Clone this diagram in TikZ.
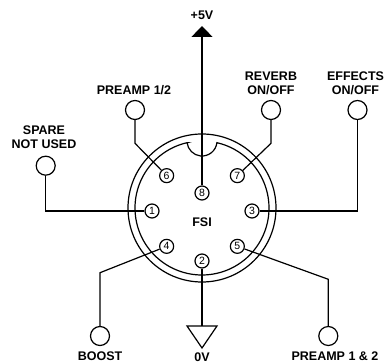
\documentclass[tikz,border=0pt]{standalone}
\usepackage{fontspec}
\setmainfont{Liberation Sans}
\usetikzlibrary{arrows.meta}
\usetikzlibrary{positioning}
\usetikzlibrary{calc}

\tikzset{
  socket/.style={draw, circle, inner sep=0pt, minimum size=14pt, font=\fontsize{10.5}{10.5}\selectfont},
  term/.style={draw, circle, inner sep=0pt, minimum size=19pt},
  lbl/.style={align=center, font=\bfseries\fontsize{12.5}{14}\selectfont}
}

\begin{document}
\begin{tikzpicture}[x=1pt, y=1pt, line width=1.2pt]
  \useasboundingbox (0,0) rectangle (391,-363);

  \def\cx{202};
  \def\cy{-208};
  \def\rout{74};
  \def\rin{67};
  \def\rpin{50};

  %draw shell
  \coordinate (C) at (\cx,\cy);
  \draw (C) circle[radius=\rout];
  \draw (C) ++(102.85:\rin) arc[start angle=102.85, end angle=437.15, radius=\rin]
        arc[start angle=353.6, end angle=186.4, radius=15] -- cycle;

  %draw pins
  \foreach \ang/\num/\name in {180/1/p1, 135/6/p6, 45/7/p7, 0/3/p3, -135/4/p4, -45/5/p5, -90/2/p2}{
    \node[socket] (\name) at ($(\cx,\cy-3)+(\ang:\rpin)$) {\num};
  }
  \node[socket] (p8) at (\cx,-193) {8};
  \node[lbl] (fsi) at (\cx,-222) {FSI};

  %terminals
  \foreach \px/\py/\name in {45.7/-165.7/spare, 135/-110/pre, 271/-110/rev, 357.5/-110/fx, 100/-336/boost, 328.3/-336/pretwo}{
    \node[term] (\name) at (\px,\py) {};
  }

  %labels
  \node[lbl] (spare-l) at (44,-137) {SPARE\\NOT USED};
  \node[lbl] (pre-l) at (134,-90.5) {PREAMP 1/2};
  \node[lbl] (rev-l) at (271,-83) {REVERB\\ON/OFF};
  \node[lbl] (fx-l) at (355.5,-83) {EFFECTS\\ON/OFF};
  \node[lbl] (boost-l) at (100,-356) {BOOST};
  \node[lbl] (pretwo-l) at (335,-356) {PREAMP 1 \& 2};
  \node[lbl] (vcc-l) at (\cx,-15.5) {+5V};
  \node[lbl] (gnd-l) at (\cx,-357.5) {0V};

  %wires
  \coordinate (vcc) at (\cx,-26);
  \coordinate (gnd) at (\cx,-326);
  \coordinate (preb) at (135,-143.3);
  \coordinate (revb) at (271,-143.3);
  \coordinate (boostb) at (100,-272.7);
  \coordinate (pretwob) at (328.3,-279.3);

  \draw (spare) |- (p1);
  \draw (fx) |- (p3);
  \draw (pre) -- (preb) -- (p6);
  \draw (rev) -- (revb) -- (p7);
  \draw (boost) -- (boostb) -- (p4);
  \draw (pretwo) -- (pretwob) -- (p5);
  \draw[-{Triangle[width=21pt,length=11pt]}] (p8) -- (vcc);
  \draw (p2) -- (gnd);
  \draw (gnd) -- ++(-15,0) -- ++(15,-22) -- ++(15,22) -- cycle;

\end{tikzpicture}
\end{document}
